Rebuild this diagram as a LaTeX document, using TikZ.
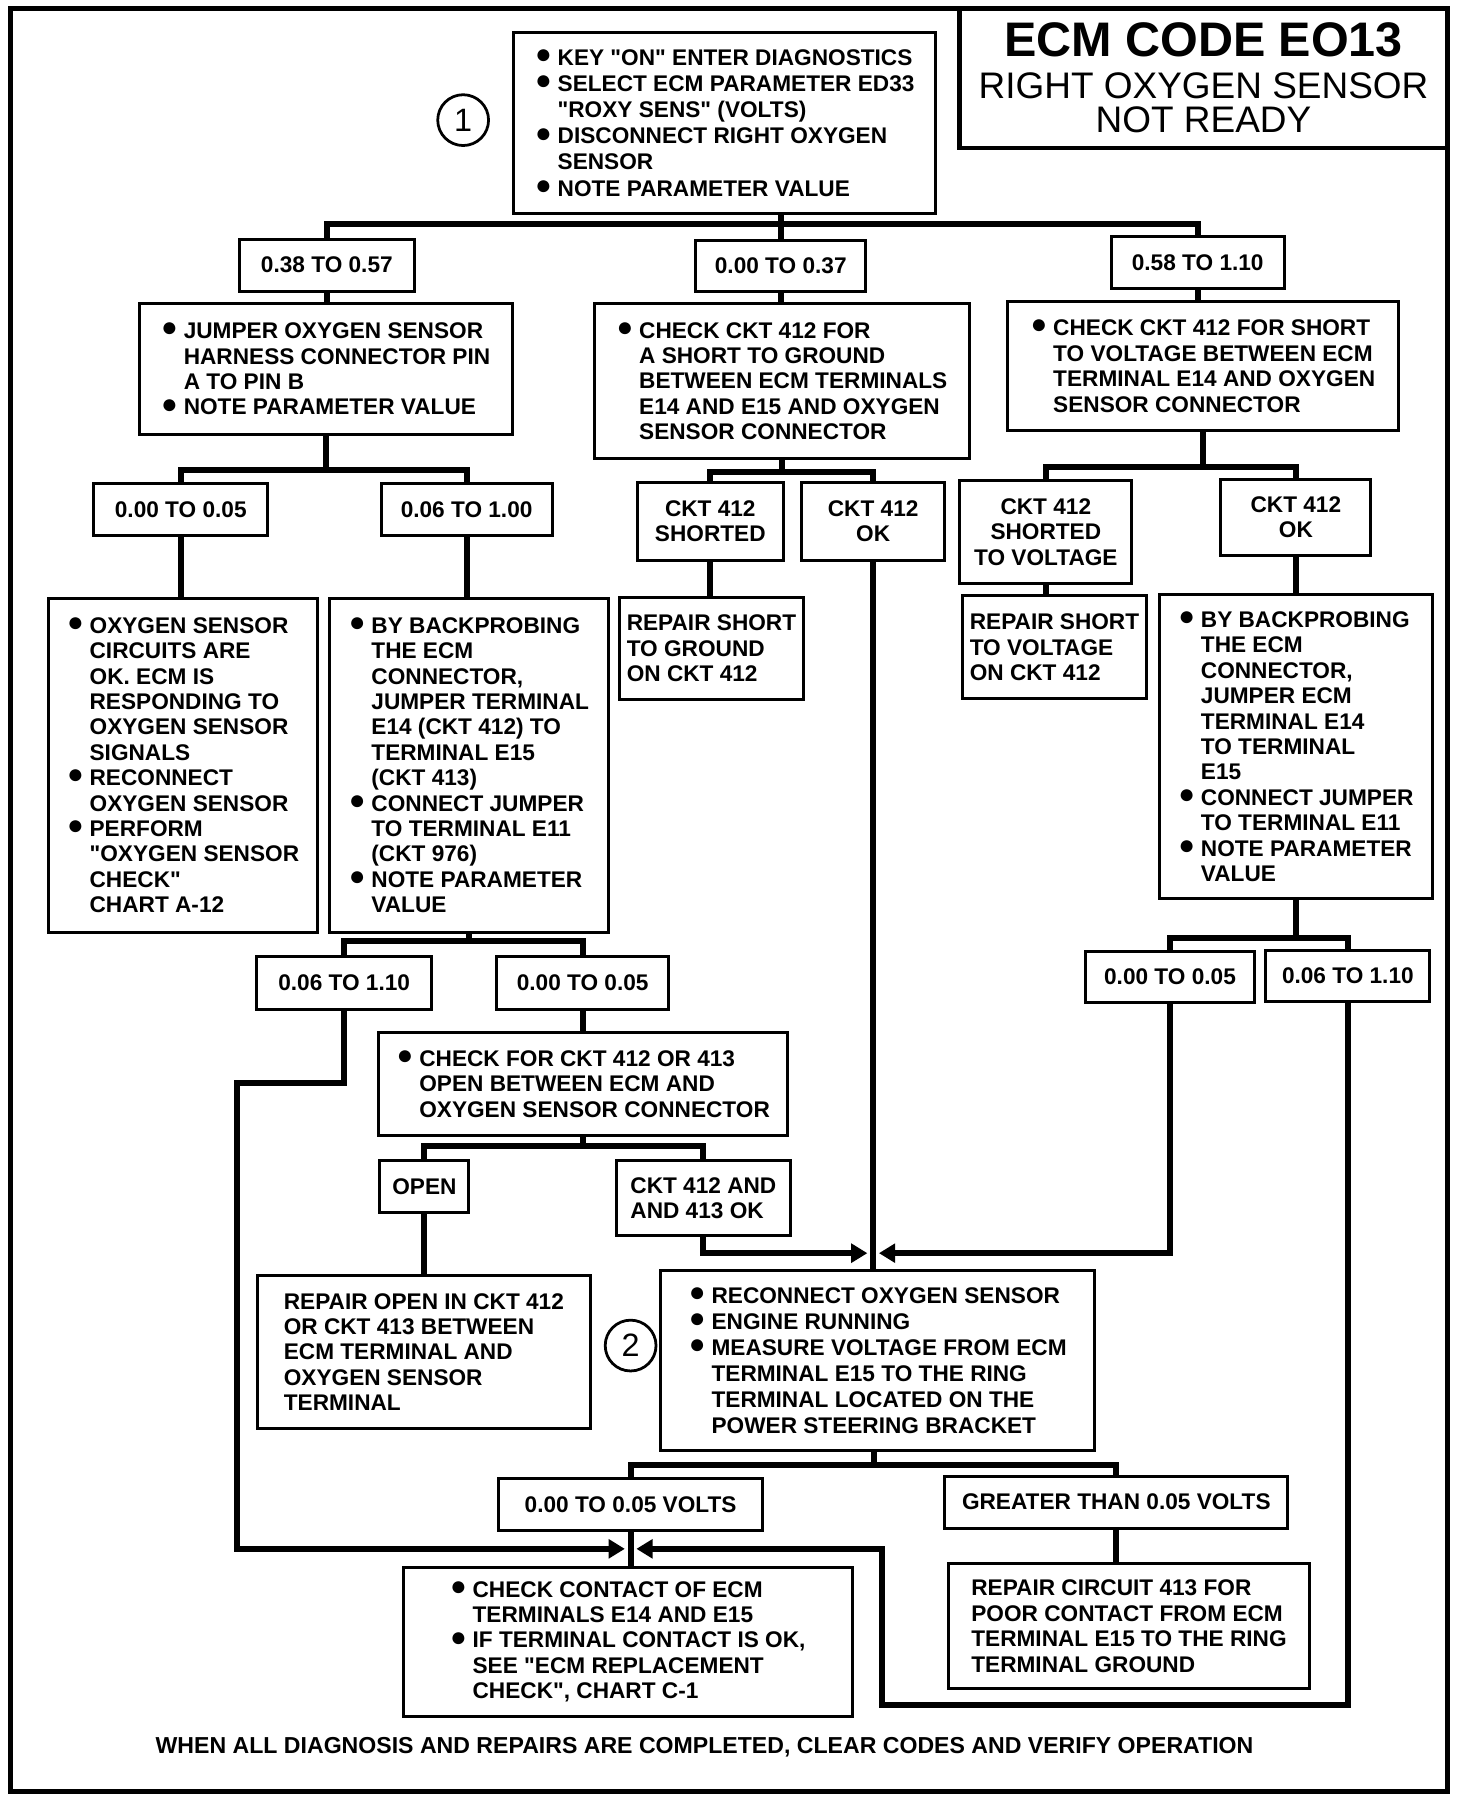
\documentclass[tikz,border=0pt]{standalone}
\usepackage{fontspec}
\setmainfont{Liberation Sans}[Ligatures=TeXOff]
\usepackage{graphicx}
\usetikzlibrary{arrows.meta,positioning,calc}

\newcommand{\bxfont}{\fontsize{9.8pt}{11pt}\selectfont\bfseries}
\newcommand{\bul}{\makebox[1.0em][l]{\raisebox{0.8pt}{\fontsize{12pt}{12pt}\selectfont ●}}}
\newcommand{\ind}{\makebox[1.0em]{}}

\tikzset{
  box/.style={draw, line width=1.3pt, inner sep=0pt, font=\bxfont, align=left},
  valbox/.style={box, align=center},
  loosebox/.style={box, font=\fontsize{9.8pt}{11.3pt}\selectfont\bfseries},
  conn/.style={line width=2.6pt},
  arr/.style={conn, -{Triangle[length=7pt,width=8pt]}},
  stepnum/.style={draw, circle, line width=1.2pt, minimum size=22pt, inner sep=0pt,
    font=\fontsize{14pt}{14pt}\selectfont}
}

\begin{document}
\begin{tikzpicture}[x=0.5pt,y=-0.5pt]
\useasboundingbox (0,0) rectangle (1274.5,1560.2);
\draw[line width=2.2pt] (9,7) rectangle (1253,1551);

% title block
\node[draw, line width=2pt, minimum width=211pt, minimum height=60.5pt, inner sep=0pt,
  align=center, font=\fontsize{16pt}{15pt}\selectfont] (title) at (1042,67.5)
  {{\fontsize{21pt}{21pt}\selectfont\bfseries ECM CODE EO13}\\[3pt]
   RIGHT OXYGEN SENSOR\\NOT READY};

% step 1
\node[stepnum] (stepone) at (401,104) {1};
\node[loosebox, minimum width=182.5pt, minimum height=78.5pt] (keyon) at (627.5,106.5)
  {\bul KEY "ON" ENTER DIAGNOSTICS\\
   \bul SELECT ECM PARAMETER ED33\\
   \ind "ROXY SENS" (VOLTS)\\
   \bul DISCONNECT RIGHT OXYGEN\\
   \ind SENSOR\\
   \bul NOTE PARAMETER VALUE};

\node[valbox, minimum width=76pt, minimum height=22.5pt] (lowv) at (283,229.5) {0.38 TO 0.57};
\node[valbox, minimum width=73.5pt, minimum height=22pt] (midv) at (676,230) {0.00 TO 0.37};
\node[valbox, minimum width=75pt, minimum height=22.5pt] (highv) at (1037,227.5) {0.58 TO 1.10};

\node[box, minimum width=161.5pt, minimum height=56.5pt] (jumper) at (282,319.5)
  {\bul JUMPER OXYGEN SENSOR\\
   \ind HARNESS CONNECTOR PIN\\
   \ind A TO PIN B\\
   \bul NOTE PARAMETER VALUE};
\node[box, minimum width=162pt, minimum height=67pt] (gndchk) at (677,330)
  {\bul CHECK CKT 412 FOR\\
   \ind A SHORT TO GROUND\\
   \ind BETWEEN ECM TERMINALS\\
   \ind E14 AND E15 AND OXYGEN\\
   \ind SENSOR CONNECTOR};
\node[box, minimum width=169.5pt, minimum height=56pt] (voltchk) at (1041.5,317)
  {\bul CHECK CKT 412 FOR SHORT\\
   \ind TO VOLTAGE BETWEEN ECM\\
   \ind TERMINAL E14 AND OXYGEN\\
   \ind SENSOR CONNECTOR};

% second level
\node[valbox, minimum width=75.5pt, minimum height=22.5pt] (jlow) at (156.5,441.5) {0.00 TO 0.05};
\node[valbox, minimum width=74pt, minimum height=22.5pt] (jhigh) at (404,441.5) {0.06 TO 1.00};
\node[valbox, minimum width=63pt, minimum height=33.5pt] (shorted) at (615,451.5) {CKT 412\\SHORTED};
\node[valbox, minimum width=62pt, minimum height=33.5pt] (ckok) at (756,451.5) {CKT 412\\OK};
\node[valbox, minimum width=74.5pt, minimum height=44.5pt] (shortv) at (905.5,460.5) {CKT 412\\SHORTED\\TO VOLTAGE};
\node[valbox, minimum width=65pt, minimum height=33pt] (ckokr) at (1122,448) {CKT 412\\OK};

\node[box, minimum width=116.5pt, minimum height=144.5pt] (sensok) at (158.5,662.5)
  {\bul OXYGEN SENSOR\\
   \ind CIRCUITS ARE\\
   \ind OK. ECM IS\\
   \ind RESPONDING TO\\
   \ind OXYGEN SENSOR\\
   \ind SIGNALS\\
   \bul RECONNECT\\
   \ind OXYGEN SENSOR\\
   \bul PERFORM\\
   \ind "OXYGEN SENSOR\\
   \ind CHECK"\\
   \ind CHART A-12};
\node[box, minimum width=121pt, minimum height=144.5pt] (backl) at (406,662.5)
  {\bul BY BACKPROBING\\
   \ind THE ECM\\
   \ind CONNECTOR,\\
   \ind JUMPER TERMINAL\\
   \ind E14 (CKT 412) TO\\
   \ind TERMINAL E15\\
   \ind (CKT 413)\\
   \bul CONNECT JUMPER\\
   \ind TO TERMINAL E11\\
   \ind (CKT 976)\\
   \bul NOTE PARAMETER\\
   \ind VALUE};
\node[box, minimum width=80pt, minimum height=44.5pt] (repgnd) at (616,561.5)
  {REPAIR SHORT\\TO GROUND\\ON CKT 412};
\node[box, minimum width=80pt, minimum height=44.5pt] (repvolt) at (913,560.5)
  {REPAIR SHORT\\TO VOLTAGE\\ON CKT 412};
\node[box, minimum width=118pt, minimum height=131.5pt] (backr) at (1122,646.5)
  {\bul BY BACKPROBING\\
   \ind THE ECM\\
   \ind CONNECTOR,\\
   \ind JUMPER ECM\\
   \ind TERMINAL E14\\
   \ind TO TERMINAL\\
   \ind E15\\
   \bul CONNECT JUMPER\\
   \ind TO TERMINAL E11\\
   \bul NOTE PARAMETER\\
   \ind VALUE};

% third level
\node[valbox, minimum width=76pt, minimum height=23pt] (blhigh) at (298,851) {0.06 TO 1.10};
\node[valbox, minimum width=74.5pt, minimum height=23pt] (bllow) at (504.5,851) {0.00 TO 0.05};
\node[valbox, minimum width=73pt, minimum height=22pt] (brlow) at (1013,846) {0.00 TO 0.05};
\node[valbox, minimum width=71pt, minimum height=22pt] (brhigh) at (1167,845) {0.06 TO 1.10};

\node[box, minimum width=177pt, minimum height=44.5pt] (openchk) at (505,938.5)
  {\bul CHECK FOR CKT 412 OR 413\\
   \ind OPEN BETWEEN ECM AND\\
   \ind OXYGEN SENSOR CONNECTOR};
\node[valbox, minimum width=38.5pt, minimum height=22.5pt] (opened) at (367.5,1027.5) {OPEN};
\node[box, minimum width=75pt, minimum height=32.5pt] (openok) at (609,1037.5) {CKT 412 AND\\AND 413 OK};
\node[box, minimum width=144pt, minimum height=66.5pt] (repopen) at (367,1170.5)
  {REPAIR OPEN IN CKT 412\\
   OR CKT 413 BETWEEN\\
   ECM TERMINAL AND\\
   OXYGEN SENSOR\\
   TERMINAL};

% step 2
\node[stepnum] (steptwo) at (546,1165) {2};
\node[loosebox, minimum width=188pt, minimum height=78pt] (measure) at (760,1178)
  {\bul RECONNECT OXYGEN SENSOR\\
   \bul ENGINE RUNNING\\
   \bul MEASURE VOLTAGE FROM ECM\\
   \ind TERMINAL E15 TO THE RING\\
   \ind TERMINAL LOCATED ON THE\\
   \ind POWER STEERING BRACKET};
\node[valbox, minimum width=114pt, minimum height=22.5pt] (lowvolt) at (546,1302.5) {0.00 TO 0.05 VOLTS};
\node[valbox, minimum width=148.5pt, minimum height=22.5pt] (highvolt) at (966.5,1300.5) {GREATER THAN 0.05 VOLTS};
\node[box, minimum width=156.5pt, minimum height=54pt] (repring) at (977.5,1408)
  {REPAIR CIRCUIT 413 FOR\\
   POOR CONTACT FROM ECM\\
   TERMINAL E15 TO THE RING\\
   TERMINAL GROUND};
\node[box, minimum width=194.5pt, minimum height=64.5pt] (contact) at (543.5,1421.5)
  {\bul CHECK CONTACT OF ECM\\
   \ind TERMINALS E14 AND E15\\
   \bul IF TERMINAL CONTACT IS OK,\\
   \ind SEE "ECM REPLACEMENT\\
   \ind CHECK", CHART C-1};

\node[font=\fontsize{10pt}{11pt}\selectfont\bfseries] (footer) at (610,1513)
  {WHEN ALL DIAGNOSIS AND REPAIRS ARE COMPLETED, CLEAR CODES AND VERIFY OPERATION};

% connectors
\coordinate (j1) at (676,194);
\draw[conn] (keyon.south -| j1) -- (midv.north);
\draw[conn] (lowv.north) |- (j1) -| (highv.north);
\draw[conn] (lowv.south) -- (lowv.south |- jumper.north);
\draw[conn] (midv.south) -- (midv.south |- gndchk.north);
\draw[conn] (highv.south) -- (highv.south |- voltchk.north);

\coordinate (j2) at (282,407);
\draw[conn] (jumper.south) -- (j2);
\draw[conn] (jlow.north) |- (j2) -| (jhigh.north);
\draw[conn] (jlow.south) -- (jlow.south |- sensok.north);
\draw[conn] (jhigh.south) -- (jhigh.south |- backl.north);

\coordinate (j3) at (677,409);
\draw[conn] (gndchk.south) -- (j3);
\draw[conn] (shorted.north) |- (j3) -| (ckok.north);
\draw[conn] (shorted.south) -- (shorted.south |- repgnd.north);
\draw[conn] (ckok.south) -- (ckok.south |- measure.north);

\coordinate (j4) at (1041.5,404);
\draw[conn] (voltchk.south) -- (j4);
\draw[conn] (shortv.north) |- (j4) -| (ckokr.north);
\draw[conn] (shortv.south) -- (shortv.south |- repvolt.north);
\draw[conn] (ckokr.south) -- (ckokr.south |- backr.north);

\coordinate (j5) at (406,815);
\draw[conn] (backl.south) -- (j5);
\draw[conn] (blhigh.north) |- (j5) -| (bllow.north);
\draw[conn] (bllow.south) -- (bllow.south |- openchk.north);

\coordinate (j6) at (505,992);
\draw[conn] (openchk.south) -- (j6);
\draw[conn] (opened.north) |- (j6) -| (openok.north);
\draw[conn] (opened.south) -- (opened.south |- repopen.north);

\coordinate (j7) at (1122,812);
\draw[conn] (backr.south) -- (j7);
\draw[conn] (brlow.north) |- (j7) -| (brhigh.north);

\coordinate (inl) at (751,1085);
\coordinate (inr) at (761,1085);
\draw[arr] (openok.south) |- (inl);
\draw[arr] (brlow.south) |- (inr);

\coordinate (j8) at (757,1268);
\draw[conn] (measure.south -| j8) -- (j8);
\draw[conn] (lowvolt.north) |- (j8) -| (highvolt.north);
\draw[conn] (lowvolt.south) -- (lowvolt.south |- contact.north);
\draw[conn] (highvolt.south) -- (highvolt.south |- repring.north);

\coordinate (lk1) at (205,938);
\coordinate (inl2) at (541,1341);
\draw[arr] (blhigh.south) |- (lk1) |- (inl2);
\coordinate (rk1) at (764,1476);
\coordinate (inr2) at (551,1341);
\draw[arr] (brhigh.south) |- (rk1) |- (inr2);
\end{tikzpicture}
\end{document}
